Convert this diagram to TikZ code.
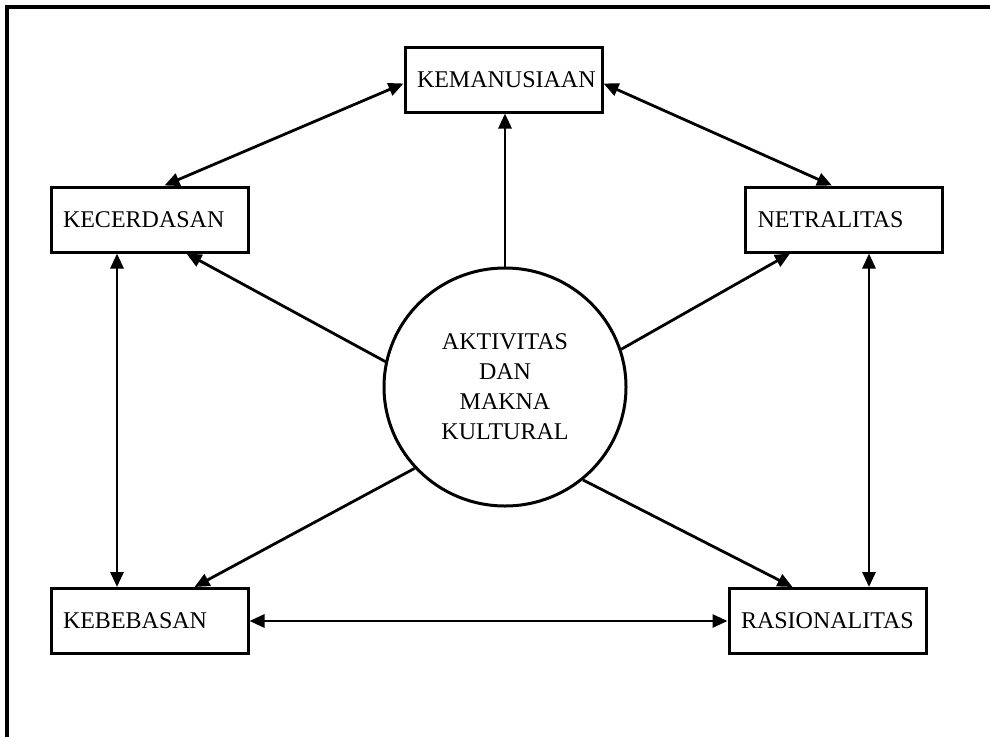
\documentclass[tikz,border=0pt]{standalone}
\usepackage{fontspec}
\setmainfont{Liberation Serif}
\usetikzlibrary{arrows.meta,shapes.geometric}
\newcommand{\boxlabel}[1]{\makebox[185pt][l]{\hspace*{6pt}#1}}
\begin{document}
\begin{tikzpicture}[x=1pt,y=-1pt,
  box/.style={draw,line width=3pt,minimum height=65pt,minimum width=197pt,
    inner xsep=6pt,font=\fontsize{24}{30}\selectfont},
  hub/.style={draw,ellipse,line width=3pt,minimum width=242pt,minimum height=238pt,
    align=center,inner sep=0pt,font=\fontsize{24}{30}\selectfont},
  conn/.style={line width=2.8pt,-{Triangle[length=15pt,width=13pt]}},
  biconn/.style={line width=2.8pt,{Triangle[length=15pt,width=13pt]}-{Triangle[length=15pt,width=13pt]}}]
\useasboundingbox (0,0) rectangle (990,736);
\draw[line width=3.2pt] (7,740) -- (7,7) -- (995,7);
\node[box] (kem) at (503.5,79.5) {\boxlabel{KEMANUSIAAN}};
\node[box] (kec) at (149.5,219.5) {\boxlabel{KECERDASAN}};
\node[box] (net) at (844,219.5) {\boxlabel{NETRALITAS}};
\node[box] (keb) at (149.5,621) {\boxlabel{KEBEBASAN}};
\node[box] (ras) at (827.5,621) {\boxlabel{RASIONALITAS}};
\node[hub] (c) at (505,387) {AKTIVITAS\\DAN\\MAKNA\\KULTURAL};
% bidirectional
\draw[biconn] ([xshift=15pt]kec.north) -- ([yshift=-4pt]kem.west);
\draw[biconn] ([yshift=-4pt]kem.east) -- ([xshift=-12pt]net.north);
\draw[biconn] ([xshift=-32.5pt]kec.south) -- ([xshift=-32.5pt]keb.north);
\draw[biconn] ([xshift=25pt]net.south) -- ([xshift=41.5pt]ras.north);
\draw[biconn] (keb.east) -- (ras.west);
% from hub
\draw[conn] (c.north) -- (kem.south -| c.north);
\draw[conn] (c.168) -- ([xshift=37pt]kec.south);
\draw[conn] (c.18) -- ([xshift=-54pt]net.south);
\draw[conn] (c.222) -- ([xshift=45pt]keb.north);
\draw[conn] (c.310) -- ([xshift=-35pt]ras.north);
\end{tikzpicture}
\end{document}
